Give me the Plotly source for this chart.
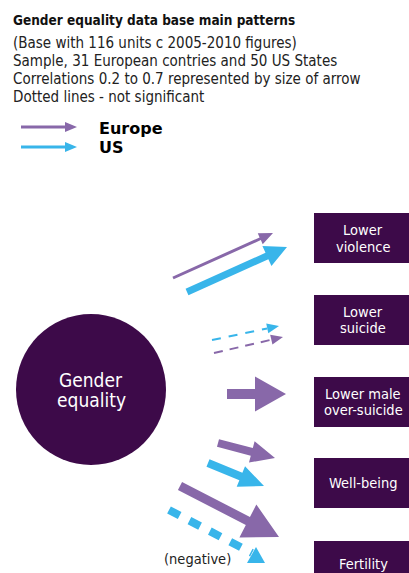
import math
import plotly.graph_objects as go

# ---------------- data ----------------
title_text = "Gender equality data base main patterns"
subtitle_lines = [
    "(Base with 116 units c 2005-2010 figures)",
    "Sample, 31 European contries and 50 US States",
    "Correlations 0.2 to 0.7 represented by size of arrow",
    "Dotted lines - not significant",
]
series_names = ["Europe", "US"]
centre_label = ["Gender", "equality"]
outcome_labels = [
    ["Lower", "violence"],
    ["Lower", "suicide"],
    ["Lower male", "over-suicide"],
    ["Well-being"],
    ["Fertility"],
]
europe_strength = [0.3, 0.2, 0.6, 0.5, 0.7]
us_strength = [0.5, 0.2, None, 0.5, 0.6]
europe_significant = [True, False, True, True, True]
us_significant = [True, False, None, True, False]
negative_note = "(negative)"

# ---------------- style / geometry ----------------
W, H = 409, 573
PURPLE = "#8868a9"
BLUE = "#38b5ea"
DARK = "#3d0a49"
TXT = "#222222"
COND = "DejaVu Sans Condensed, DejaVu Sans, sans-serif"

# geometry per outcome: (x0, y0, x1, y1, shaft, head_w, head_l)
europe_geom = [
    (173, 278, 273, 233, 3, 12, 14),
    (214, 353, 283, 337, 2, 10, 12),
    (227, 394, 286, 394, 10, 35, 31),
    (218, 443, 275, 458, 8, 22, 24),
    (180, 486, 279, 537, 9, 37, 35),
]
us_geom = [
    (187, 292, 287, 247, 7, 22, 22),
    (212, 340, 279, 326, 2, 10, 12),
    None,
    (208, 463, 264, 486, 8, 22, 25),
    (169, 510, 252, 553, 8, None, None),
]
box_top = [213, 295, 377, 458, 541]
box_h = 50
box_x0, box_x1 = 314, 414
line_gap = [17, 16, 16, 0, 0]

fig = go.Figure()


def arrow_poly(x0, y0, x1, y1, sw, hw, hl):
    dx, dy = x1 - x0, y1 - y0
    L = math.hypot(dx, dy)
    ux, uy = dx / L, dy / L
    px, py = -uy, ux
    bx, by = x1 - ux * hl, y1 - uy * hl
    pts = [
        (x0 + px * sw / 2, y0 + py * sw / 2),
        (bx + px * sw / 2, by + py * sw / 2),
        (bx + px * hw / 2, by + py * hw / 2),
        (x1, y1),
        (bx - px * hw / 2, by - py * hw / 2),
        (bx - px * sw / 2, by - py * sw / 2),
        (x0 - px * sw / 2, y0 - py * sw / 2),
        (x0 + px * sw / 2, y0 + py * sw / 2),
    ]
    return [p[0] for p in pts], [p[1] for p in pts]


def head_poly(x1, y1, ux, uy, hw, hl):
    px, py = -uy, ux
    bx, by = x1 - ux * hl, y1 - uy * hl
    pts = [(bx + px * hw / 2, by + py * hw / 2), (x1, y1),
           (bx - px * hw / 2, by - py * hw / 2), (bx + px * hw / 2, by + py * hw / 2)]
    return [p[0] for p in pts], [p[1] for p in pts]


def add_solid(g, color):
    xs, ys = arrow_poly(*g)
    fig.add_trace(go.Scatter(x=xs, y=ys, mode="lines", fill="toself",
                             fillcolor=color, line=dict(width=0, color=color),
                             hoverinfo="skip", showlegend=False))


def add_dashed(g, color, dash):
    x0, y0, x1, y1, sw, hw, hl = g
    dx, dy = x1 - x0, y1 - y0
    L = math.hypot(dx, dy)
    ux, uy = dx / L, dy / L
    if hw is None:
        ex, ey = x1, y1
    else:
        ex, ey = x1 - ux * hl, y1 - uy * hl
    fig.add_trace(go.Scatter(x=[x0, ex], y=[y0, ey], mode="lines",
                             line=dict(width=sw, color=color, dash=dash),
                             hoverinfo="skip", showlegend=False))
    if hw is not None:
        xs, ys = head_poly(x1, y1, ux, uy, hw, hl)
        fig.add_trace(go.Scatter(x=xs, y=ys, mode="lines", fill="toself",
                                 fillcolor=color, line=dict(width=0, color=color),
                                 hoverinfo="skip", showlegend=False))


# outcome arrows
for i in range(len(outcome_labels)):
    g = europe_geom[i]
    if europe_strength[i] is not None and g is not None:
        if europe_significant[i]:
            add_solid(g, PURPLE)
        else:
            add_dashed(g, PURPLE, "9px,7px")
    g = us_geom[i]
    if us_strength[i] is not None and g is not None:
        if us_significant[i]:
            add_solid(g, BLUE)
        else:
            add_dashed(g, BLUE, "9px,8px" if g[4] < 4 else "12px,11px")

# the partial blue head on the non-significant US fertility arrow
fig.add_trace(go.Scatter(x=[247, 256, 265, 247], y=[563, 547, 563, 563], mode="lines",
                         fill="toself", fillcolor=BLUE, line=dict(width=0, color=BLUE),
                         hoverinfo="skip", showlegend=False))

# legend arrows
for name, color, y in zip(series_names, [PURPLE, BLUE], [127, 147]):
    add_solid((21, y, 77, y, 3, 10, 12), color)

shapes = []
# centre circle
shapes.append(dict(type="circle", xref="x", yref="y", x0=16, x1=166, y0=314, y1=465,
                   fillcolor=DARK, line=dict(width=0), layer="below"))
# outcome boxes
for t in box_top:
    shapes.append(dict(type="rect", xref="x", yref="y", x0=box_x0, x1=box_x1,
                       y0=t, y1=t + box_h, fillcolor=DARK, line=dict(width=0),
                       layer="below"))

ann = []
ann.append(dict(x=11, y=20, text="<b>" + title_text + "</b>", xanchor="left",
                yanchor="middle", showarrow=False,
                font=dict(family=COND, size=13.5, color="#111111")))
for k, line in enumerate(subtitle_lines):
    ann.append(dict(x=11, y=43 + k * 18, text=line, xanchor="left", yanchor="middle",
                    showarrow=False, font=dict(family=COND, size=15, color=TXT)))
for name, y in zip(series_names, [128, 147]):
    ann.append(dict(x=97, y=y, text="<b>" + name + "</b>", xanchor="left",
                    yanchor="middle", showarrow=False,
                    font=dict(family="DejaVu Sans", size=16, color="#000000")))
# centre label
for k, line in enumerate(centre_label):
    ann.append(dict(x=91, y=380 + k * 20, text=line, xanchor="center", yanchor="middle",
                    showarrow=False, font=dict(family=COND, size=19, color="white")))
# box labels
for t, lines, gap in zip(box_top, outcome_labels, line_gap):
    cy = t + box_h / 2
    n = len(lines)
    for k, line in enumerate(lines):
        y = cy + (k - (n - 1) / 2) * gap
        if t == box_top[-1]:
            y = 564
        ann.append(dict(x=363, y=y, text=line, xanchor="center", yanchor="middle",
                        showarrow=False, font=dict(family=COND, size=14.5, color="white")))
ann.append(dict(x=197, y=559, text=negative_note, xanchor="center", yanchor="middle",
                showarrow=False, font=dict(family=COND, size=14.5, color=TXT)))

fig.update_layout(
    width=W, height=H, margin=dict(l=0, r=0, t=0, b=0),
    paper_bgcolor="white", plot_bgcolor="white",
    xaxis=dict(range=[0, W], visible=False, fixedrange=True),
    yaxis=dict(range=[H, 0], visible=False, fixedrange=True),
    shapes=shapes, annotations=ann, showlegend=False,
)
fig.write_html(
    "out.html",
    config={"displayModeBar": False},
    post_script="document.body.style.margin='0';document.body.style.overflow='hidden';",
)
